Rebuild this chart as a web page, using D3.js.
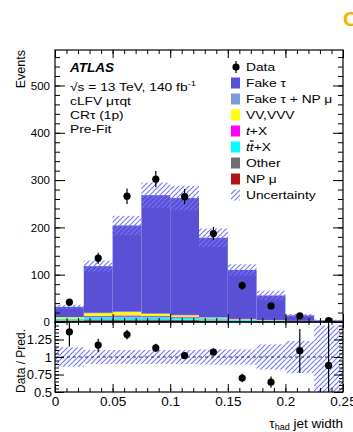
<!DOCTYPE html>
<html><head><meta charset="utf-8">
<script src="https://cdn.jsdelivr.net/npm/d3@7"></script>
<style>
body{margin:0;background:#fff;}
svg{display:block;font-family:"Liberation Sans",Arial,Helvetica,sans-serif;}
</style></head>
<body>
<script>
// ---------- data ----------
const binEdges = [0,0.025,0.05,0.075,0.1,0.125,0.15,0.175,0.2,0.225,0.25];
const fakeTau  = [21.5,98.5,182,250,247,168,103.4,51.7,11.6,2.3];
const fakeTauNPmu = [0.5,1,1,1,1,1,0.8,0.5,0.3,0.1];
const vvVVV    = [3,6,7,4.5,3.5,1.5,0.8,0.5,0.3,0.1];
const tX       = [0.5,2,3,2,1.5,1,0.5,0.3,0.2,0.1];
const ttX      = [3,5,5.5,5,4,3,2,1.2,0.6,0.2];
const other    = [1.5,3.5,3.5,3.5,3,2,1.5,1,0.5,0.3];
const npMu     = [2,2,2,2,2,1.5,1,0.8,0.5,0.3];
const dataVals = [42,135,266,302,265,187,77,34,13,3];
const dataErr  = [6.5,11.6,16.3,17.4,16.3,13.7,8.8,5.8,3.6,1.7];
const uncUp    = [0.14,0.10,0.10,0.10,0.10,0.11,0.11,0.18,0.23,0.45];
const uncDown  = [0.14,0.10,0.10,0.10,0.10,0.11,0.11,0.18,0.23,0.60];
const ratioVals = [1.36,1.17,1.32,1.13,1.02,1.07,0.70,0.64,1.09,0.88];
const ratioErrUp   = [0.25,0.09,0.07,0.06,0.05,0.05,0.06,0.08,0.31,0.8];
const ratioErrDown = [0.21,0.10,0.07,0.06,0.05,0.05,0.06,0.08,0.32,0.8];
const mainYTicks = [0,100,200,300,400,500];
const ratioYTicks = [0.5,0.75,1,1.25];
const xTicks = [0,0.05,0.1,0.15,0.2,0.25];

const layers = [
  {key:"npMu", vals:npMu, color:"#b01414"},
  {key:"other", vals:other, color:"#6e6e6e"},
  {key:"ttX", vals:ttX, color:"#00ffff"},
  {key:"tX", vals:tX, color:"#ff00ff"},
  {key:"vv", vals:vvVVV, color:"#ffff00"},
  {key:"fakeNP", vals:fakeTauNPmu, color:"#7b9ad6"},
  {key:"fakeTau", vals:fakeTau, color:"#5a50d6"}
];

// ---------- layout ----------
const W=353,H=432;
const L=55,R=343,T=50,MB=322,RB=392;
const svg=d3.select("body").append("svg").attr("width",W).attr("height",H);
const defs=svg.append("defs");
const pat=defs.append("pattern").attr("id","hatch").attr("patternUnits","userSpaceOnUse")
  .attr("width",5).attr("height",5);
pat.append("path").attr("d","M-1,1 l2,-2 M0,5 l5,-5 M4,6 l2,-2")
  .attr("stroke","#7474f4").attr("stroke-width",1.1);
defs.append("clipPath").attr("id","clipMain").append("rect").attr("x",L).attr("y",T).attr("width",R-L).attr("height",MB-T);
defs.append("clipPath").attr("id","clipRatio").append("rect").attr("x",L).attr("y",MB).attr("width",R-L).attr("height",RB-MB);

const x=d3.scaleLinear().domain([0,0.25]).range([L,R]);
const y=d3.scaleLinear().domain([0,575]).range([MB,T]);
const yr=d3.scaleLinear().domain([0.5,1.5]).range([RB,MB]);

const bins=d3.range(10).map(i=>{
  const o={i:i,x0:binEdges[i],x1:binEdges[i+1]};
  layers.forEach(l=>o[l.key]=l.vals[i]);
  return o;
});
const stack=d3.stack().keys(layers.map(l=>l.key))(bins);
const colorOf={}; layers.forEach(l=>colorOf[l.key]=l.color);

const gMain=svg.append("g").attr("clip-path","url(#clipMain)");
stack.forEach(s=>{
  gMain.selectAll(null).data(s).enter().append("rect")
    .attr("x",d=>x(d.data.x0)).attr("width",d=>x(d.data.x1)-x(d.data.x0))
    .attr("y",d=>y(d[1])).attr("height",d=>Math.max(0,y(d[0])-y(d[1])))
    .attr("fill",colorOf[s.key]);
});
const totals=bins.map((b,i)=>stack[stack.length-1][i][1]);
gMain.selectAll(null).data(bins).enter().append("rect")
  .attr("x",d=>x(d.x0)).attr("width",d=>x(d.x1)-x(d.x0))
  .attr("y",d=>y(totals[d.i]*(1+uncUp[d.i])))
  .attr("height",d=>y(totals[d.i]*(1-uncDown[d.i]))-y(totals[d.i]*(1+uncUp[d.i])))
  .attr("fill","url(#hatch)");
const centers=bins.map(b=>(b.x0+b.x1)/2);
const gD=svg.append("g").attr("clip-path","url(#clipMain)");
gD.selectAll(null).data(bins).enter().append("line")
  .attr("x1",d=>x(centers[d.i])).attr("x2",d=>x(centers[d.i]))
  .attr("y1",d=>y(dataVals[d.i]+dataErr[d.i])).attr("y2",d=>y(Math.max(0,dataVals[d.i]-dataErr[d.i])))
  .attr("stroke","#000").attr("stroke-width",1.2);
gD.selectAll(null).data(bins).enter().append("circle")
  .attr("cx",d=>x(centers[d.i])).attr("cy",d=>y(dataVals[d.i])).attr("r",3.6).attr("fill","#000");

// ratio panel
const gR=svg.append("g").attr("clip-path","url(#clipRatio)");
gR.selectAll(null).data(bins).enter().append("rect")
  .attr("x",d=>x(d.x0)).attr("width",d=>x(d.x1)-x(d.x0))
  .attr("y",d=>yr(1+uncUp[d.i])).attr("height",d=>yr(1-uncDown[d.i])-yr(1+uncUp[d.i]))
  .attr("fill","url(#hatch)");
gR.append("line").attr("x1",L).attr("x2",R).attr("y1",yr(1)).attr("y2",yr(1))
  .attr("stroke","#000").attr("stroke-width",0.8).attr("stroke-dasharray","3,3");
gR.selectAll(null).data(bins).enter().append("line")
  .attr("x1",d=>x(centers[d.i])).attr("x2",d=>x(centers[d.i]))
  .attr("y1",d=>yr(ratioVals[d.i]+ratioErrUp[d.i])).attr("y2",d=>yr(ratioVals[d.i]-ratioErrDown[d.i]))
  .attr("stroke","#000").attr("stroke-width",1.2);
gR.selectAll(null).data(bins).enter().append("circle")
  .attr("cx",d=>x(centers[d.i])).attr("cy",d=>yr(ratioVals[d.i])).attr("r",3.6).attr("fill","#000");

// ---------- axes ----------
function ax(gen,tr,fs){
  const g=svg.append("g").attr("transform",tr).call(gen);
  g.select(".domain").remove();
  g.selectAll(".tick line").attr("stroke","#000").attr("stroke-width",1);
  g.selectAll(".tick text").attr("font-size",fs||"11.5px").attr("fill","#000").attr("font-family","Liberation Sans, Arial, sans-serif");
  return g;
}
const minorX=d3.range(0,0.2501,0.01);
const minorY=d3.range(0,575,20);
const minorR=d3.range(0.5,1.5001,0.05);
ax(d3.axisLeft(y).tickValues(mainYTicks).tickSizeInner(-10).tickSizeOuter(0).tickPadding(5).tickFormat(d3.format("d")),`translate(${L},0)`,"11.5px");
ax(d3.axisLeft(y).tickValues(minorY).tickSizeInner(-5).tickSizeOuter(0).tickFormat(""),`translate(${L},0)`);
ax(d3.axisRight(y).tickValues(mainYTicks).tickSizeInner(-10).tickSizeOuter(0).tickFormat(""),`translate(${R},0)`);
ax(d3.axisRight(y).tickValues(minorY).tickSizeInner(-5).tickSizeOuter(0).tickFormat(""),`translate(${R},0)`);
ax(d3.axisTop(x).tickValues(xTicks).tickSizeInner(-8).tickSizeOuter(0).tickFormat(""),`translate(0,${T})`);
ax(d3.axisTop(x).tickValues(minorX).tickSizeInner(-4).tickSizeOuter(0).tickFormat(""),`translate(0,${T})`);
ax(d3.axisBottom(x).tickValues(xTicks).tickSizeInner(-8).tickSizeOuter(0).tickFormat(""),`translate(0,${MB})`);
ax(d3.axisBottom(x).tickValues(minorX).tickSizeInner(-4).tickSizeOuter(0).tickFormat(""),`translate(0,${MB})`);
ax(d3.axisLeft(yr).tickValues(ratioYTicks).tickSizeInner(-9).tickSizeOuter(0).tickPadding(3).tickFormat(d=>String(d)),`translate(${L},0)`,"13px");
ax(d3.axisLeft(yr).tickValues(minorR).tickSizeInner(-4).tickSizeOuter(0).tickFormat(""),`translate(${L},0)`);
ax(d3.axisRight(yr).tickValues(ratioYTicks).tickSizeInner(-9).tickSizeOuter(0).tickFormat(""),`translate(${R},0)`);
ax(d3.axisRight(yr).tickValues(minorR).tickSizeInner(-4).tickSizeOuter(0).tickFormat(""),`translate(${R},0)`);
ax(d3.axisTop(x).tickValues(xTicks).tickSizeInner(-6).tickSizeOuter(0).tickFormat(""),`translate(0,${MB})`);
ax(d3.axisTop(x).tickValues(minorX).tickSizeInner(-3).tickSizeOuter(0).tickFormat(""),`translate(0,${MB})`);
ax(d3.axisBottom(x).tickValues(xTicks).tickSizeInner(-8).tickSizeOuter(0).tickPadding(4).tickFormat(d=>d===0?"0":String(d)),`translate(0,${RB})`,"13.5px");
ax(d3.axisBottom(x).tickValues(minorX).tickSizeInner(-4).tickSizeOuter(0).tickFormat(""),`translate(0,${RB})`);

// frames
svg.append("rect").attr("x",L).attr("y",T).attr("width",R-L).attr("height",MB-T).attr("fill","none").attr("stroke","#000").attr("stroke-width",1.2);
svg.append("rect").attr("x",L).attr("y",MB).attr("width",R-L).attr("height",RB-MB).attr("fill","none").attr("stroke","#000").attr("stroke-width",1.2);

// axis titles
svg.append("text").attr("transform",`translate(25,${T}) rotate(-90)`).attr("text-anchor","end")
  .attr("font-size","12.5px").text("Events");
svg.append("text").attr("transform",`translate(25,361) rotate(-90)`).attr("text-anchor","middle")
  .attr("font-size","12px").text("Data / Pred.");
const xt=svg.append("text").attr("x",R).attr("y",428).attr("text-anchor","end").attr("font-size","13.5px");
xt.append("tspan").text("\u03c4");
xt.append("tspan").attr("font-size","9px").attr("dy",2).text("had");
xt.append("tspan").attr("dy",-2).text(" jet width");

// ATLAS labels (slightly wide font rendering as in reference)
const SX=1.2;
function wideText(xp,yp,fs){
  return svg.append("text").attr("transform",`translate(${xp},${yp}) scale(${SX},1)`).attr("font-size",fs);
}
const lx=70;
svg.append("text").attr("x",lx).attr("y",72).attr("font-size","13.5px").attr("font-weight","bold").attr("font-style","italic").text("ATLAS");
const s=wideText(lx,91,"11.5px");
s.append("tspan").text("\u221as = 13 TeV, 140 fb");
s.append("tspan").attr("font-size","8px").attr("dy",-5).text("-1");
wideText(lx,105,"11.5px").text("cLFV \u03bc\u03c4qt");
wideText(lx,119,"11.5px").text("CR\u03c4 (1p)");
wideText(lx,133,"11.5px").text("Pre-Fit");

// legend
const legRows=[
  {type:"data",label:"Data"},
  {type:"box",color:colorOf.fakeTau,label:"Fake \u03c4"},
  {type:"box",color:colorOf.fakeNP,label:"Fake \u03c4 + NP \u03bc"},
  {type:"box",color:colorOf.vv,label:"VV,VVV"},
  {type:"box",color:colorOf.tX,label:"tX"},
  {type:"box",color:colorOf.ttX,label:"ttX"},
  {type:"box",color:colorOf.other,label:"Other"},
  {type:"box",color:colorOf.npMu,label:"NP \u03bc"},
  {type:"hatch",label:"Uncertainty"}
];
const legY=d3.scalePoint().domain(d3.range(legRows.length)).range([67,195]);
legRows.forEach((r,i)=>{
  const cy=legY(i);
  if(r.type==="data"){
    svg.append("line").attr("x1",236).attr("x2",236).attr("y1",cy-6).attr("y2",cy+6).attr("stroke","#000").attr("stroke-width",1.2);
    svg.append("circle").attr("cx",236).attr("cy",cy).attr("r",3.6).attr("fill","#000");
  } else {
    svg.append("rect").attr("x",231).attr("y",cy-5.5).attr("width",9).attr("height",11)
      .attr("fill",r.type==="hatch"?"url(#hatch)":r.color);
  }
  const t=wideText(246,cy+4.3,"11.5px");
  if(r.label==="tX"){
    t.append("tspan").attr("font-style","italic").text("t");
    t.append("tspan").text("+X");
  } else if(r.label==="ttX"){
    t.append("tspan").attr("font-style","italic").text("t");
    t.append("tspan").attr("font-style","italic").style("text-decoration","overline").text("t");
    t.append("tspan").text("+X");
  } else t.text(r.label);
});

// orange partial logo at top right (cut by the edge as in the reference)
svg.append("text").attr("x",343).attr("y",26).attr("font-size","21px").attr("font-weight","bold")
  .attr("fill","#f0b400").text("C");
</script>
</body></html>
